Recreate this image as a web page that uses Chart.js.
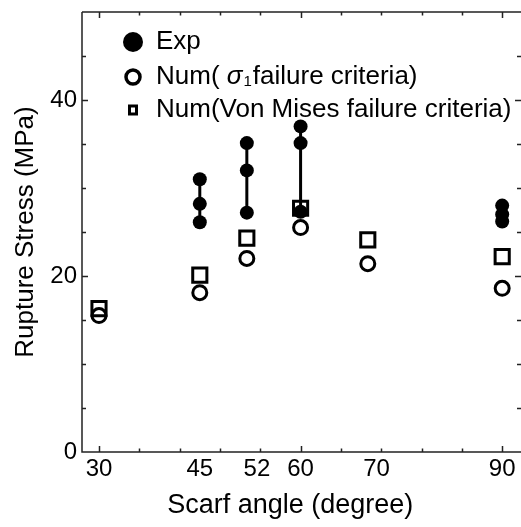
<!DOCTYPE html>
<html>
<head>
<meta charset="utf-8">
<script src="https://cdn.jsdelivr.net/npm/chart.js@4.4.1/dist/chart.umd.min.js"></script>
<style>
  html, body { margin: 0; padding: 0; background: #fff; overflow: hidden; }
  #wrap { position: relative; width: 521px; height: 527px; }
  #my-chart { display: block; }
</style>
</head>
<body>
<div id="wrap"><canvas id="my-chart"></canvas></div>
<script>
'use strict';

// Data
let expAngles = [45, 45, 45, 52, 52, 52, 60, 60, 60, 90, 90, 90];
let expStress = [31, 28.2, 26.1, 35.1, 32, 27.2, 37, 35.1, 27.3, 28, 27, 26.2];

let numAngles = [30, 45, 52, 60, 70, 90];
let sigma1Stress = [15.5, 18.1, 22, 25.5, 21.4, 18.6];
let vonMisesStress = [16.3, 20.1, 24.3, 27.7, 24.1, 22.2];

// Axis stuff
let xTickLabels = ['30', '45', '52', '60', '70', '90'];
let xTickAt = [30, 45, 53.5, 60, 71.3, 90];
let yTickLabels = [0, 20, 40];
let xMinor = 6;
let yMinor = 5;

let fontName = '"Liberation Sans", Arial, sans-serif';

// Helper Functions
function toPoints(xArr, yArr) {
  let pts = [];
  for (let i = 0; i < xArr.length; i++) {
    pts.push({ x: xArr[i], y: yArr[i] });
  }
  return pts;
}

// vertical bar from lowest to highest exp value at every angle
function expRanges() {
  let pts = [];
  let done = [];
  for (let i = 0; i < expAngles.length; i++) {
    let a = expAngles[i];
    if (done.includes(a)) continue;
    done.push(a);
    let vals = [];
    for (let j = 0; j < expAngles.length; j++) {
      if (expAngles[j] === a) vals.push(expStress[j]);
    }
    pts.push({ x: a, y: Math.min(...vals) });
    pts.push({ x: a, y: Math.max(...vals) });
    pts.push({ x: a, y: null });
  }
  return pts;
}

// frame with inward ticks, like the original plot
let framePlugin = {
  id: 'frame',
  afterDraw(chart) {
    let ctx = chart.ctx;
    let area = chart.chartArea;
    let xs = chart.scales.x;
    let ys = chart.scales.y;
    ctx.save();
    ctx.strokeStyle = '#222';
    ctx.lineWidth = 1.5;
    ctx.beginPath();
    ctx.moveTo(area.left, area.top);
    ctx.lineTo(area.right, area.top);
    ctx.moveTo(area.left, area.top);
    ctx.lineTo(area.left, area.bottom);
    ctx.lineTo(area.right, area.bottom);
    for (let v = 30; v <= 90; v += xMinor) {
      let px = Math.round(xs.getPixelForValue(v)) + 0.5;
      let len = (v % 30 === 0) ? 6 : 3.5;
      ctx.moveTo(px, area.bottom);
      ctx.lineTo(px, area.bottom - len);
      ctx.moveTo(px, area.top);
      ctx.lineTo(px, area.top + len);
    }
    for (let v = yMinor; v < ys.max; v += yMinor) {
      let py = Math.round(ys.getPixelForValue(v)) + 0.5;
      let len = yTickLabels.includes(v) ? 6 : 4;
      ctx.moveTo(area.left, py);
      ctx.lineTo(area.left + len, py);
      ctx.moveTo(area.right, py);
      ctx.lineTo(area.right - len, py);
    }
    ctx.stroke();
    ctx.restore();
  }
};

// legend drawn inside the plot, top left
let legendPlugin = {
  id: 'insideLegend',
  afterDraw(chart) {
    let ctx = chart.ctx;
    let mx = 133;
    let tx = 156;
    let rows = [42, 77, 110];
    let fs = 26;
    ctx.save();
    ctx.fillStyle = '#000';
    ctx.strokeStyle = '#000';

    ctx.beginPath();
    ctx.arc(mx, rows[0], 10, 0, Math.PI * 2);
    ctx.fill();

    ctx.lineWidth = 3.5;
    ctx.beginPath();
    ctx.arc(mx, rows[1], 7, 0, Math.PI * 2);
    ctx.stroke();

    ctx.lineWidth = 3;
    ctx.strokeRect(mx - 3.5, rows[2] - 4, 7, 8);

    ctx.textBaseline = 'middle';
    ctx.textAlign = 'left';
    ctx.font = fs + 'px ' + fontName;
    ctx.fillText('Exp', tx, rows[0]);

    let x = tx;
    ctx.fillText('Num( ', x, rows[1]);
    x += ctx.measureText('Num( ').width;
    ctx.font = 'italic ' + fs + 'px ' + fontName;
    ctx.fillText('\u03c3', x, rows[1]);
    x += ctx.measureText('\u03c3').width + 1;
    ctx.font = '15px ' + fontName;
    ctx.fillText('1', x, rows[1] + 5);
    x += ctx.measureText('1').width + 1;
    ctx.font = fs + 'px ' + fontName;
    ctx.fillText('failure criteria)', x, rows[1]);

    ctx.fillText('Num(Von Mises failure criteria)', tx, rows[2]);
    ctx.restore();
  }
};

// Chart Stuff
let canvasElem = document.getElementById('my-chart');

let myObj = {
  type: 'scatter',
  data: {
    datasets: [
      {
        label: 'Exp range',
        type: 'line',
        data: expRanges(),
        borderColor: '#000',
        borderWidth: 3,
        pointRadius: 0,
        spanGaps: false
      },
      {
        label: 'Exp',
        data: toPoints(expAngles, expStress),
        pointStyle: 'circle',
        pointRadius: 7,
        backgroundColor: '#000',
        borderWidth: 0
      },
      {
        label: 'Num(sigma1 failure criteria)',
        data: toPoints(numAngles, sigma1Stress),
        pointStyle: 'circle',
        pointRadius: 7,
        backgroundColor: 'rgba(0,0,0,0)',
        borderColor: '#000',
        borderWidth: 3
      },
      {
        label: 'Num(Von Mises failure criteria)',
        data: toPoints(numAngles, vonMisesStress),
        pointStyle: 'rect',
        pointRadius: 10,
        backgroundColor: 'rgba(0,0,0,0)',
        borderColor: '#000',
        borderWidth: 3
      }
    ]
  },
  options: {
    responsive: true,
    maintainAspectRatio: false,
    animation: false,
    devicePixelRatio: 1,
    layout: {
      autoPadding: false,
      padding: { top: 12, right: 0, left: 0, bottom: 0 }
    },
    plugins: {
      legend: { display: false },
      tooltip: { enabled: false }
    },
    scales: {
      x: {
        type: 'linear',
        min: 27.47,
        max: 92.8,
        grid: { display: false, drawTicks: false },
        border: { display: false },
        afterBuildTicks: (scale) => {
          scale.ticks = xTickAt.map(v => ({ value: v }));
        },
        afterFit: (scale) => {
          scale.height = 75;
          scale.paddingLeft = 0;
          scale.paddingRight = 0;
        },
        ticks: {
          autoSkip: false,
          maxRotation: 0,
          padding: 3,
          color: '#000',
          font: { family: fontName, size: 24 },
          callback: (v) => {
            let i = xTickAt.indexOf(v);
            return i >= 0 ? xTickLabels[i] : '';
          }
        },
        title: {
          display: true,
          // trailing spaces nudge the title a bit left, like the original
          text: 'Scarf angle (degree)   ',
          color: '#000',
          font: { family: fontName, size: 27 },
          padding: { top: 0, bottom: 5 }
        }
      },
      y: {
        min: 0,
        max: 50,
        grid: { display: false, drawTicks: false },
        border: { display: false },
        afterBuildTicks: (scale) => {
          scale.ticks = yTickLabels.map(v => ({ value: v }));
        },
        afterFit: (scale) => {
          scale.width = 82;
          scale.paddingTop = 0;
          scale.paddingBottom = 0;
        },
        ticks: {
          padding: 5,
          color: '#000',
          font: { family: fontName, size: 24 }
        },
        title: {
          display: true,
          text: 'Rupture Stress (MPa)',
          color: '#000',
          font: { family: fontName, size: 26 },
          padding: { top: 10, bottom: 0 }
        }
      }
    }
  },
  plugins: [framePlugin, legendPlugin]
};

new Chart(canvasElem, myObj);
</script>
</body>
</html>
